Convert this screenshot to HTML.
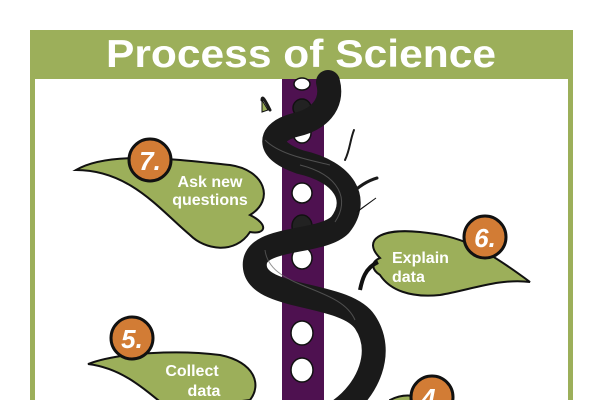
<!DOCTYPE html>
<html><head><style>
body{margin:0;width:600px;height:400px;overflow:hidden;background:#fff}
svg{display:block}
text{font-family:"Liberation Sans",sans-serif;font-weight:bold}
</style></head><body>
<svg width="600" height="400" viewBox="0 0 600 400">
<rect x="30" y="30" width="543" height="380" fill="#9caf5a"/>
<rect x="35" y="79" width="533" height="330" fill="#fff"/>
<text x="106" y="67" font-size="39" fill="#fff" textLength="390" lengthAdjust="spacingAndGlyphs">Process of Science</text>
<!-- pole -->
<rect x="282" y="79" width="42" height="330" fill="#4e1150"/>
<g fill="#fff" stroke="#111" stroke-width="1.5">
<ellipse cx="302" cy="84" rx="8" ry="6"/>
<ellipse cx="302" cy="108" rx="9" ry="9" fill="#222"/>
<ellipse cx="302" cy="133" rx="9" ry="10"/>
<ellipse cx="302" cy="193" rx="10" ry="10"/>
<ellipse cx="302" cy="226" rx="10" ry="11" fill="#222"/>
<ellipse cx="302" cy="258" rx="10" ry="11"/>
<ellipse cx="302" cy="333" rx="11" ry="12"/>
<ellipse cx="302" cy="370" rx="11" ry="12"/>
</g>
<!-- vine -->
<g fill="none" stroke="#1a1a1a" stroke-linecap="round">
<path d="M328 82 C334 105 318 120 295 125 C268 132 265 150 300 162 C345 172 360 200 340 225 C320 245 250 235 255 268 C260 300 345 292 365 322 C385 352 368 390 340 410" stroke-width="24"/>
<path d="M270 110 C265 100 262 95 262 100" stroke-width="3"/>
<path d="M350 195 C360 185 370 180 377 178" stroke-width="3"/>
<path d="M345 160 C350 150 350 140 354 130" stroke-width="2"/>
</g>
<g stroke="#666" stroke-width="1" fill="none" opacity="0.7">
<path d="M300 165 C340 175 350 200 335 222"/>
<path d="M265 250 C270 290 340 285 355 320"/>
<path d="M265 140 C280 155 310 160 330 165"/>
</g>
<path d="M262 100 L268 110 L262 112 Z" fill="#9caf5a" stroke="#111"/>
<path d="M357 212 L376 198 L362 208 Z" fill="#9caf5a" stroke="#111"/>
<!-- leaf 7 -->
<path d="M76 170 C110 150 180 160 230 165 C265 170 275 200 250 215 C270 225 265 235 250 232 C235 255 205 250 190 235 C160 210 130 170 76 170 Z" fill="#9caf5a" stroke="#111" stroke-width="2"/>
<circle cx="150" cy="160" r="21" fill="#d27c35" stroke="#111" stroke-width="3"/>
<text x="150" y="170" font-size="26" fill="#fff" text-anchor="middle" font-style="italic">7.</text>
<text x="210" y="187" font-size="16" fill="#fff" text-anchor="middle">Ask new</text>
<text x="210" y="205" font-size="16" fill="#fff" text-anchor="middle">questions</text>
<!-- leaf 6 -->
<path d="M380 258 C362 240 380 228 420 232 C460 236 480 245 530 282 C500 278 470 290 440 295 C410 298 390 290 380 275 C372 270 370 262 380 258 Z" fill="#9caf5a" stroke="#111" stroke-width="2"/>
<path d="M378 262 C365 268 362 280 360 290" stroke="#111" stroke-width="4" fill="none"/>
<circle cx="485" cy="237" r="21" fill="#d27c35" stroke="#111" stroke-width="3"/>
<text x="485" y="247" font-size="26" fill="#fff" text-anchor="middle" font-style="italic">6.</text>
<text x="392" y="263" font-size="16" fill="#fff">Explain</text>
<text x="392" y="282" font-size="16" fill="#fff">data</text>
<!-- leaf 5 -->
<path d="M88 364 C120 352 180 350 220 355 C255 362 262 385 250 400 L170 410 C140 385 120 368 88 364 Z" fill="#9caf5a" stroke="#111" stroke-width="2"/>
<circle cx="132" cy="338" r="21" fill="#d27c35" stroke="#111" stroke-width="3"/>
<text x="132" y="348" font-size="26" fill="#fff" text-anchor="middle" font-style="italic">5.</text>
<text x="192" y="376" font-size="16" fill="#fff" text-anchor="middle">Collect</text>
<text x="204" y="396" font-size="16" fill="#fff" text-anchor="middle">data</text>
<!-- leaf 4 -->
<path d="M390 400 C400 395 410 394 420 398 L420 410 L390 410 Z" fill="#9caf5a" stroke="#111" stroke-width="2"/>
<circle cx="432" cy="397" r="21" fill="#d27c35" stroke="#111" stroke-width="3"/>
<text x="432" y="407" font-size="26" fill="#fff" text-anchor="middle" font-style="italic">4.</text>
</svg>
</body></html>
